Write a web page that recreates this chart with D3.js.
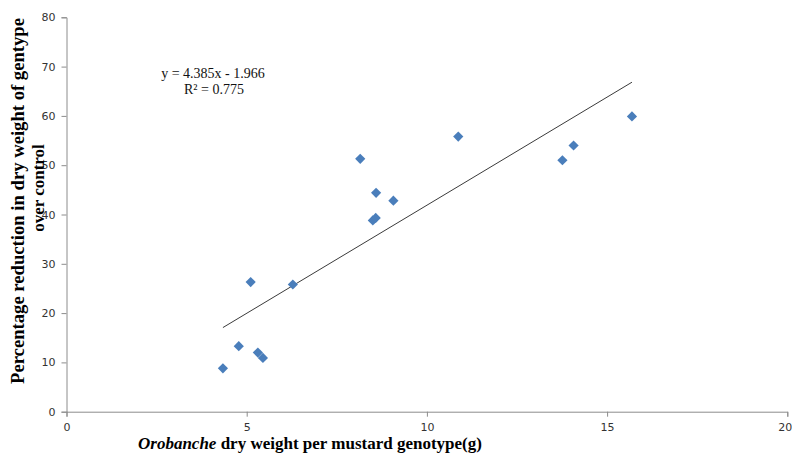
<!DOCTYPE html>
<html>
<head>
<meta charset="utf-8">
<script src="https://cdn.jsdelivr.net/npm/d3@7"></script>
<style>
  html, body { margin: 0; padding: 0; background: #fff; }
  svg { display: block; }
</style>
</head>
<body>
<svg id="chart" width="792" height="454"></svg>
<script>
// Data
const xValues = [4.34, 4.78, 5.11, 5.31, 5.45, 6.28, 8.15, 8.59, 9.07, 8.50, 8.58, 10.87, 13.76, 14.07, 15.69];
const yValues = [8.8, 13.3, 26.3, 12.0, 10.9, 25.8, 51.3, 44.4, 42.8, 38.8, 39.3, 55.8, 51.0, 54.0, 59.9];
const xTicks = [0, 5, 10, 15, 20];
const yTicks = [0, 10, 20, 30, 40, 50, 60, 70, 80];
const trendSlope = 4.385;
const trendIntercept = -1.966;
const equationLines = ["y = 4.385x - 1.966", "R² = 0.775"];
const yTitleLines = ["Percentage reduction in dry weight of gentype", "over control"];

const svg = d3.select("#chart");

const x = d3.scaleLinear().domain([0, 20]).range([66.5, 787.3]);
const y = d3.scaleLinear().domain([0, 80]).range([411.7, 17.3]);

const axisColor = "#8c8c8c";
const tickFont = "'DejaVu Sans', 'Open Sans', sans-serif";

// X axis
const gx = svg.append("g")
  .attr("transform", `translate(0,${y(0)})`)
  .call(d3.axisBottom(x).tickValues(xTicks).tickSize(5).tickPadding(7).tickFormat(d3.format("d")));
gx.select(".domain").attr("stroke", axisColor);
gx.selectAll(".tick line").attr("stroke", axisColor);
gx.selectAll(".tick text").attr("fill", "#333").style("font-family", tickFont).style("font-size", "11px");
// keep the last label inside the page edge
gx.selectAll(".tick text").filter(d => d === 20).attr("text-anchor", "end").attr("dx", "4.5");

// Y axis
const gy = svg.append("g")
  .attr("transform", `translate(${x(0)},0)`)
  .call(d3.axisLeft(y).tickValues(yTicks).tickSize(5).tickPadding(6).tickFormat(d3.format("d")));
gy.select(".domain").attr("stroke", axisColor);
gy.selectAll(".tick line").attr("stroke", axisColor);
gy.selectAll(".tick text").attr("fill", "#333").style("font-family", tickFont).style("font-size", "11px");

// Trend line
const xMin = d3.min(xValues), xMax = d3.max(xValues);
svg.append("line")
  .attr("x1", x(xMin)).attr("y1", y(trendSlope * xMin + trendIntercept))
  .attr("x2", x(xMax)).attr("y2", y(trendSlope * xMax + trendIntercept))
  .attr("stroke", "#3a3a3a").attr("stroke-width", 1);

// Points
const pts = xValues.map((v, i) => ({ x: v, y: yValues[i] }));
const sym = d3.symbol().type(d3.symbolSquare).size(52);
svg.append("g").selectAll("path").data(pts).join("path")
  .attr("d", sym)
  .attr("transform", d => `translate(${x(d.x)},${y(d.y)}) rotate(45)`)
  .attr("fill", "#4a7ebb");

// Equation
const serif = "'Liberation Serif', 'Times New Roman', serif";
svg.append("text").attr("x", 213).attr("y", 78)
  .attr("text-anchor", "middle").style("font-family", serif).style("font-size", "14px").attr("fill", "#111")
  .text(equationLines[0]);
svg.append("text").attr("x", 214).attr("y", 93.5)
  .attr("text-anchor", "middle").style("font-family", serif).style("font-size", "14px").attr("fill", "#111")
  .text(equationLines[1]);

// Y title
svg.append("text")
  .attr("transform", "translate(24,201) rotate(-90)")
  .attr("text-anchor", "middle").style("font-family", serif).style("font-size", "18px").style("font-weight", "bold").attr("fill", "#000")
  .attr("textLength", 366).attr("lengthAdjust", "spacingAndGlyphs")
  .text(yTitleLines[0]);
svg.append("text")
  .attr("transform", "translate(44,188) rotate(-90)")
  .attr("text-anchor", "middle").style("font-family", serif).style("font-size", "17px").style("font-weight", "bold").attr("fill", "#000")
  .text(yTitleLines[1]);

// X title
const xt = svg.append("text").attr("x", 138).attr("y", 449)
  .style("font-family", serif).style("font-size", "17px").style("font-weight", "bold").attr("fill", "#000");
xt.append("tspan").style("font-style", "italic").text("Orobanche");
xt.append("tspan").text(" dry weight per mustard genotype(g)");
</script>
</body>
</html>
